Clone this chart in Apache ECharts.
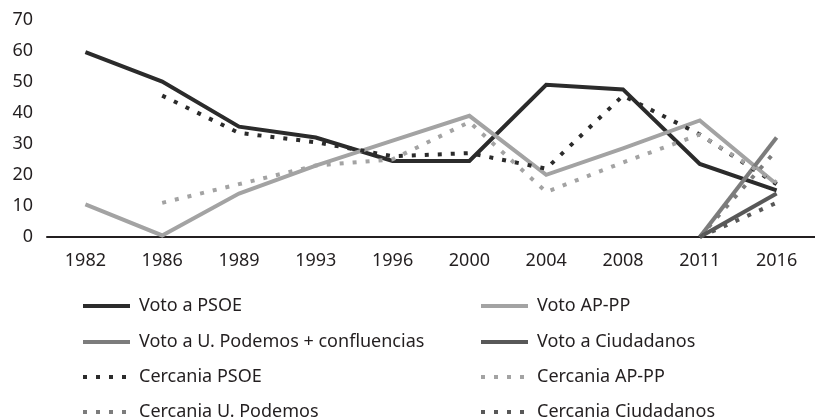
<!DOCTYPE html>
<html>
<head>
<meta charset="utf-8">
<script src="https://cdn.jsdelivr.net/npm/echarts@6/dist/echarts.min.js"></script>
<style>html,body{margin:0;padding:0;background:#fff}#c{width:815px;height:420px}</style>
</head>
<body>
<div id="c"></div>
<script>
var categories = ['1982','1986','1989','1993','1996','2000','2004','2008','2011','2016'];
var votoPSOE = [59.5, 50, 35.5, 32, 24.5, 24.5, 49, 47.5, 23.5, 15];
var votoAPPP = [10.5, 0.5, 14, 23, 31, 39, 20, 28.5, 37.5, 17];
var votoPodemos = [null, null, null, null, null, null, null, null, 0, 32];
var votoCiudadanos = [null, null, null, null, null, null, null, null, 0, 14];
var cercaniaPSOE = [null, 45.5, 33.5, 30.5, 26, 27, 22, 45.5, 33, 17];
var cercaniaAPPP = [null, 11, 17, 23, 25, 37, 14.5, 24, 33, 17.5];
var cercaniaPodemos = [null, null, null, null, null, null, null, null, 0, 28];
var cercaniaCiudadanos = [null, null, null, null, null, null, null, null, 0, 11];
var seriesNames = ['Voto a PSOE','Voto AP-PP','Voto a U. Podemos + confluencias','Voto a Ciudadanos','Cercania PSOE','Cercania AP-PP','Cercania U. Podemos','Cercania Ciudadanos'];

var cBlack = '#2b2b2b', cLight = '#a3a3a3', cMid = '#7c7c7c', cDark = '#585858';
var dots = [4, 9];
function mk(name, data, color, dashed) {
  return {
    name: name, type: 'line', data: data, symbol: 'none', connectNulls: false,
    lineStyle: { color: color, width: 4, type: dashed ? dots : 'solid', cap: 'butt', join: 'miter' },
    itemStyle: { color: color },
    emphasis: { disabled: true }, animation: false
  };
}
var font = 'Noto Sans';
var colLeft = [81, 479];
var rowTop = [297, 333, 368, 403];
var legends = seriesNames.map(function (n, i) {
  return {
    data: [n], left: colLeft[i % 2], top: rowTop[Math.floor(i / 2)],
    orient: 'horizontal', padding: 0,
    itemWidth: 47, itemHeight: 18,
    lineStyle: { width: 4 },
    itemStyle: { color: 'rgba(0,0,0,0)', borderColor: 'rgba(0,0,0,0)', borderWidth: 0 },
    textStyle: { fontFamily: font, fontSize: 18, color: '#231f20', lineHeight: 18, padding: [0, 0, 0, 4] },
    selectedMode: false
  };
});
var chart = echarts.init(document.getElementById('c'), null, { renderer: 'canvas' });
chart.setOption({
  animation: false,
  backgroundColor: '#fff',
  grid: { left: 47, width: 771, top: 19.5, bottom: 183, containLabel: false },
  legend: legends,
  xAxis: {
    type: 'category', data: categories, boundaryGap: true,
    axisLine: { show: true, lineStyle: { color: '#231f20', width: 2 } },
    axisTick: { show: false },
    axisLabel: { fontFamily: font, fontSize: 18, color: '#231f20', margin: 15 },
    splitLine: { show: false }
  },
  yAxis: {
    type: 'value', min: 0, max: 70, interval: 10,
    axisLine: { show: false }, axisTick: { show: false }, splitLine: { show: false },
    axisLabel: { fontFamily: font, fontSize: 18, color: '#231f20', margin: 14 }
  },
  series: [
    mk(seriesNames[0], votoPSOE, cBlack, false),
    mk(seriesNames[1], votoAPPP, cLight, false),
    mk(seriesNames[2], votoPodemos, cMid, false),
    mk(seriesNames[3], votoCiudadanos, cDark, false),
    mk(seriesNames[4], cercaniaPSOE, cBlack, true),
    mk(seriesNames[5], cercaniaAPPP, cLight, true),
    mk(seriesNames[6], cercaniaPodemos, cMid, true),
    mk(seriesNames[7], cercaniaCiudadanos, cDark, true)
  ]
});
</script>
</body>
</html>
